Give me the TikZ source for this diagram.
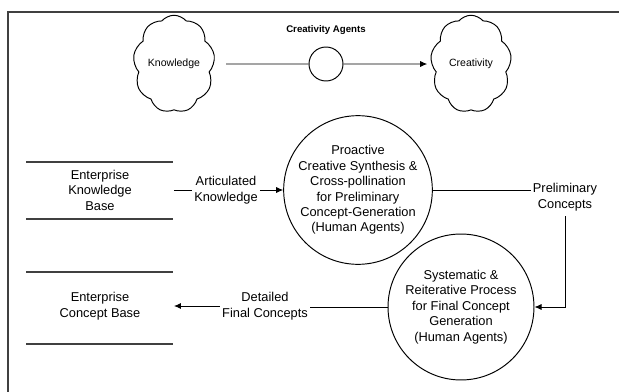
\documentclass[tikz,border=0pt]{standalone}
\usepackage{fontspec}
\setmainfont{Liberation Sans}
\usetikzlibrary{shapes.symbols,arrows.meta,positioning}
\tikzset{
  txt/.style={font=\fontsize{7.3}{8.8}\selectfont, align=center, inner sep=1pt},
  storetxt/.style={txt, minimum width=2.94cm},
  proc/.style={circle, draw, txt, minimum size=2.92cm, inner sep=0pt},
  puff/.style={cloud, draw, cloud puffs=9, cloud puff arc=100, aspect=0.95,
    minimum width=1.62cm, minimum height=1.95cm, inner sep=0pt,
    font=\fontsize{6}{7}\selectfont},
  flow/.style={-{Latex[length=4pt,width=3.5pt]}},
  storeline/.style={line width=0.9pt, black!75},
}
\begin{document}
\begin{tikzpicture}[x=0.02cm, y=-0.02cm, line width=0.55pt]
\useasboundingbox (0,0) rectangle (619,392);
\draw[black!75, line width=0.8pt] (621,12) -- (8,12) -- (8,394);
% knowledge to creativity
\node[puff] (know) at (174,64) {Knowledge};
\node[puff] (creat) at (471,64) {Creativity};
\node[circle, draw, minimum size=0.68cm, inner sep=0pt] (agent) at (326,64) {};
\node[font=\fontsize{5.5}{6}\selectfont\bfseries, above=3pt of agent] (agentlbl) {Creativity Agents};
\draw ([xshift=0.24cm]know.east) -- (agent.west);
\draw[flow, shorten >=0.08cm] (agent.east) -- (creat.west);
% stores
\node[storetxt] (kbase) at (100,190) {Enterprise\\Knowledge\\Base};
\node[storetxt] (cbase) at (100,306) {Enterprise\\Concept Base};
\foreach \y in {162,219,272,344} {
  \draw[storeline] (26,\y) -- (173,\y);
}
% processes
\node[proc] (synth) at (358,190) {Proactive\\Creative Synthesis \&\\Cross-pollination\\for Preliminary\\Concept-Generation\\(Human Agents)};
\node[proc] (final) at (461,307) {Systematic \&\\Reiterative Process\\for Final Concept\\Generation\\(Human Agents)};
% flow labels
\node[txt] (artic) at (226,190) {Articulated\\Knowledge};
\node[txt] (prelim) at (565,197) {Preliminary\\Concepts};
\node[txt] (detail) at (265,306) {Detailed\\Final Concepts};
\draw (kbase.east) -- (artic.west);
\draw[flow] (artic.east) -- (synth.west);
\draw (synth.east) -- (synth.east -| prelim.west);
\draw[flow] ([yshift=-2pt]prelim.south) |- (final.east);
\draw (final.west) -- (final.west -| detail.east);
\draw[flow] (detail.west) -- (cbase.east);
\end{tikzpicture}
\end{document}
